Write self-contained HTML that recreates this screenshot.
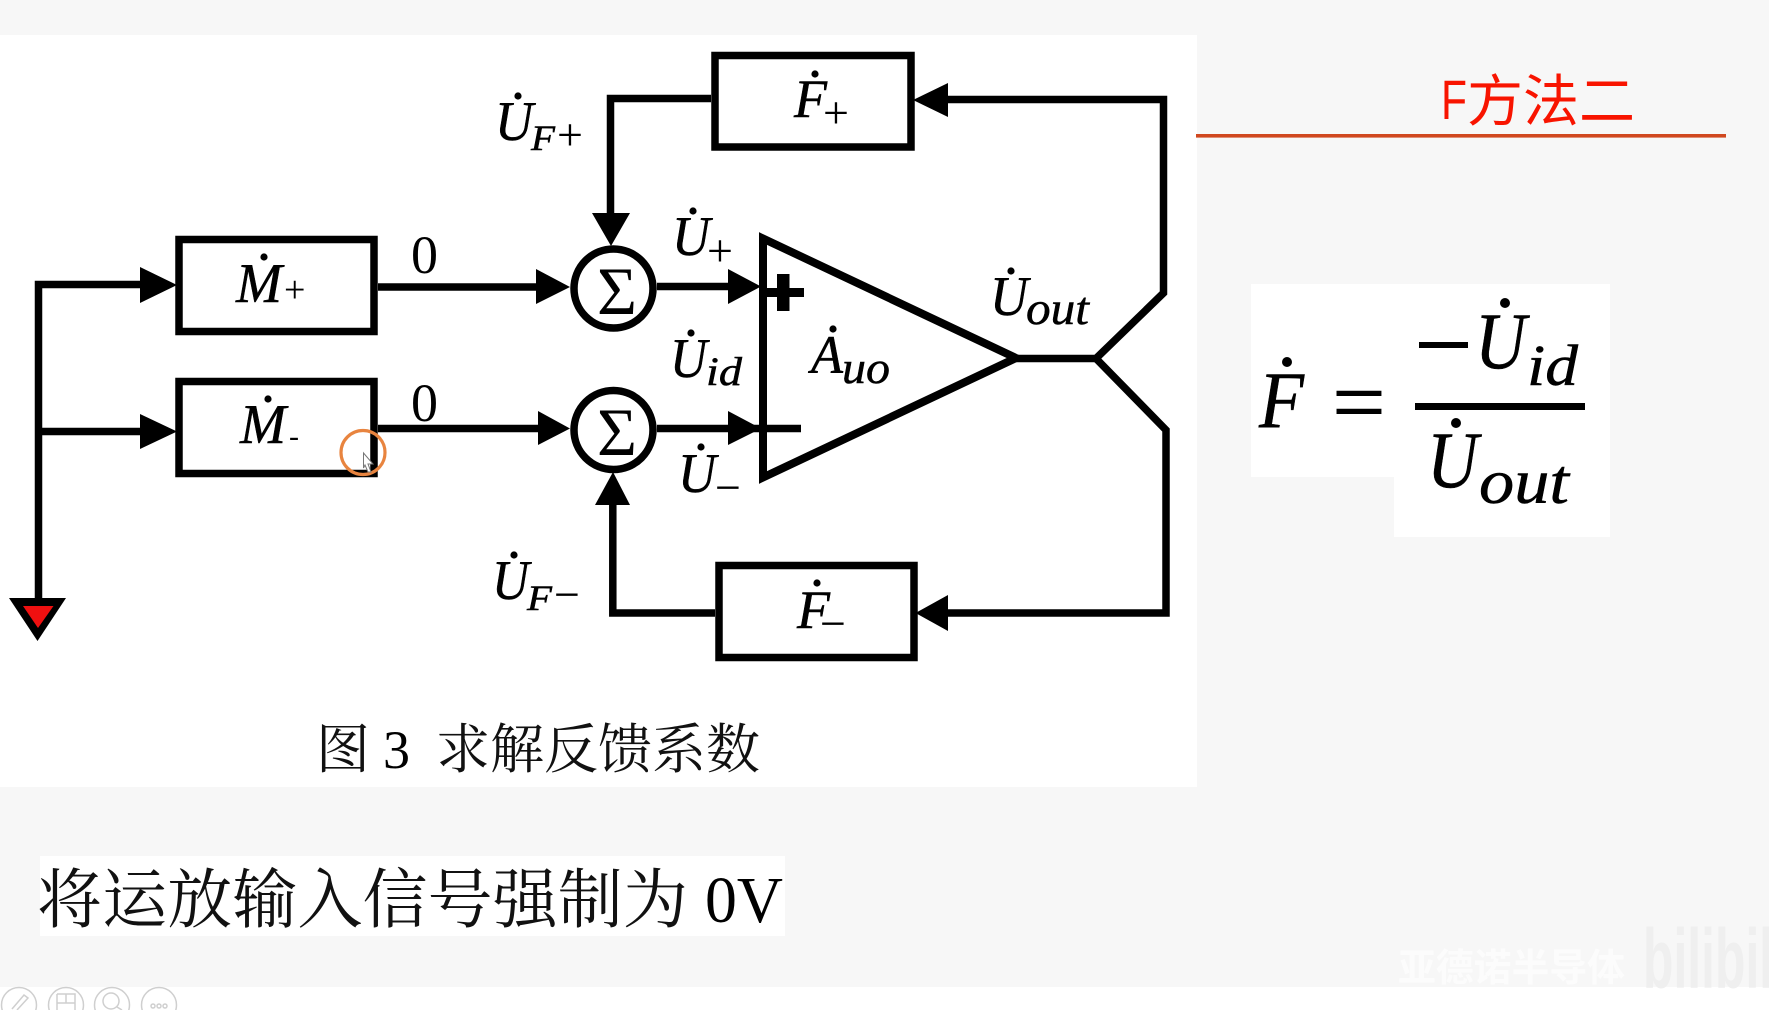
<!DOCTYPE html>
<html><head><meta charset="utf-8">
<style>
html,body{margin:0;padding:0;background:#f7f7f7;width:1769px;height:1010px;overflow:hidden}
svg{display:block}
.s{font-family:"Liberation Serif",serif}
.i{font-family:"Liberation Serif",serif;font-style:italic;fill:#000;stroke:#000;stroke-width:.5}
.c{font-family:"Liberation Serif","Noto Serif CJK SC",serif;fill:#111}
</style></head><body>
<svg width="1769" height="1010" viewBox="0 0 1769 1010" xmlns="http://www.w3.org/2000/svg">
<rect width="1769" height="1010" fill="#f7f7f7"/>
<rect x="0" y="35" width="1197" height="752" fill="#fff"/>
<rect x="0" y="987" width="1769" height="23" fill="#fff"/>
<rect x="40" y="856" width="745" height="80" fill="#fff"/>
<polygon points="1251,284 1610,284 1610,537 1394,537 1394,477 1251,477" fill="#fff"/>

<!-- watermark -->
<text x="1398" y="981" font-family="'Liberation Sans','Noto Sans CJK SC',sans-serif" font-weight="700" font-size="38" fill="#fcfcfc" textLength="227" lengthAdjust="spacingAndGlyphs">亚德诺半导体</text>
<g font-family="'Liberation Sans',sans-serif" font-weight="700" font-size="84" fill="#efefef">
<text x="1643" y="988" textLength="72" lengthAdjust="spacingAndGlyphs">bili</text>
<text x="1715" y="988" textLength="72" lengthAdjust="spacingAndGlyphs">bili</text>
</g>

<!-- blocks -->
<g fill="none" stroke="#000" stroke-width="7.5" stroke-miterlimit="10">
<rect x="179" y="239.5" width="195" height="92"/>
<rect x="179" y="381.5" width="195" height="92"/>
<rect x="715" y="55.5" width="196" height="91.5"/>
<rect x="719" y="565.5" width="195" height="92"/>
<circle cx="613.5" cy="288.5" r="39.5"/>
<circle cx="613.5" cy="430" r="39.5"/>
<polygon points="763,238.5 1016,358 763,477.5" stroke-width="8"/>
<!-- wires -->
<path d="M38.5,598V284.5H145"/>
<path d="M38.5,431.5H145"/>
<path d="M378,287H540"/>
<path d="M378,428.5H542"/>
<path d="M657,286.5H732"/>
<path d="M657,428.5H801"/>
<path d="M711,98.5H610.5V218"/>
<path d="M940,99.5H1163.5V293L1096,358.5H1010"/>
<path d="M1096,358.5L1166,430V613H940"/>
<path d="M715,613H612.8V500"/>
</g>
<!-- arrowheads -->
<g fill="#000">
<polygon points="140,267 177,285 140,303"/>
<polygon points="140,414 177,431.5 140,449"/>
<polygon points="536,269 570,287 536,304"/>
<polygon points="538,411 570,428.5 538,445"/>
<polygon points="728,269 761,286.5 728,304"/>
<polygon points="728,411 761,428.5 728,445"/>
<polygon points="592,213 630,213 611,246"/>
<polygon points="595,505 630,505 613,472"/>
<polygon points="913,100 948,83 948,117"/>
<polygon points="915.5,613 948,595 948,631"/>
<rect x="765" y="288" width="39" height="9"/>
<rect x="777" y="274" width="12.5" height="37"/>
</g>

<!-- ground -->
<polygon points="9,598 66,598 37.5,641" fill="#000"/>
<polygon points="23,606 53.5,606 38,628" fill="#f01010"/>

<!-- sigma and zeros -->
<text class="s" x="597" y="314" font-size="68" textLength="40" lengthAdjust="spacingAndGlyphs">Σ</text>
<text class="s" x="597" y="455" font-size="68" textLength="40" lengthAdjust="spacingAndGlyphs">Σ</text>
<text class="s" x="411" y="273" font-size="54">0</text>
<text class="s" x="411" y="421" font-size="54">0</text>

<!-- labels -->
<g fill="#000">
<circle cx="518" cy="96" r="3.6"/><circle cx="264" cy="257" r="3.6"/><circle cx="268" cy="399" r="3.6"/>
<circle cx="815" cy="74" r="3.6"/><circle cx="693" cy="211" r="3.6"/><circle cx="691" cy="333" r="3.6"/>
<circle cx="701" cy="447" r="3.6"/><circle cx="833" cy="329" r="3.6"/><circle cx="1011" cy="271" r="3.6"/>
<circle cx="514" cy="555" r="3.6"/><circle cx="817" cy="583" r="3.6"/>
<circle cx="1287" cy="362" r="5"/><circle cx="1505" cy="303" r="5"/><circle cx="1456" cy="423" r="5"/>
</g>
<text class="i" x="495" y="140" font-size="56" textLength="38" lengthAdjust="spacingAndGlyphs">U</text>
<text class="i" x="531" y="150" font-size="36" textLength="24" lengthAdjust="spacingAndGlyphs">F</text>
<text class="s" x="557" y="150" font-size="46">+</text>

<text class="i" x="236" y="302" font-size="56" textLength="46" lengthAdjust="spacingAndGlyphs">M</text>
<text class="s" x="284" y="302" font-size="38">+</text>
<text class="i" x="240" y="443" font-size="56" textLength="46" lengthAdjust="spacingAndGlyphs">M</text>
<text class="s" x="289" y="446" font-size="30">-</text>

<text class="i" x="794" y="117" font-size="54" textLength="33" lengthAdjust="spacingAndGlyphs">F</text>
<text class="s" x="823" y="128" font-size="46">+</text>

<text class="i" x="672" y="255" font-size="56" textLength="38" lengthAdjust="spacingAndGlyphs">U</text>
<text class="s" x="707" y="266" font-size="46">+</text>

<text class="i" x="670" y="377" font-size="56" textLength="37" lengthAdjust="spacingAndGlyphs">U</text>
<text class="i" x="706" y="385" font-size="40" textLength="36" lengthAdjust="spacingAndGlyphs">id</text>

<text class="i" x="678" y="492" font-size="56" textLength="38" lengthAdjust="spacingAndGlyphs">U</text>
<text class="s" x="715" y="503" font-size="46">−</text>

<text class="i" x="811" y="373" font-size="54" textLength="32" lengthAdjust="spacingAndGlyphs">A</text>
<text class="i" x="842" y="383" font-size="45" textLength="48" lengthAdjust="spacingAndGlyphs">uo</text>

<text class="i" x="990" y="315" font-size="56" textLength="38" lengthAdjust="spacingAndGlyphs">U</text>
<text class="i" x="1026" y="324" font-size="47" textLength="63" lengthAdjust="spacingAndGlyphs">out</text>

<text class="i" x="492" y="599" font-size="56" textLength="37" lengthAdjust="spacingAndGlyphs">U</text>
<text class="i" x="527" y="610" font-size="36" textLength="25" lengthAdjust="spacingAndGlyphs">F</text>
<text class="s" x="554" y="610" font-size="46">−</text>

<text class="i" x="797" y="628" font-size="54" textLength="33" lengthAdjust="spacingAndGlyphs">F</text>
<text class="s" x="820" y="639" font-size="46">−</text>

<!-- captions -->
<text class="c" x="316" y="768" font-size="54">图</text>
<text class="s" x="383" y="768" font-size="54">3</text>
<text class="c" x="436" y="768" font-size="54" textLength="324" lengthAdjust="spacing">求解反馈系数</text>
<text class="c" x="37" y="922" font-size="65" textLength="651" lengthAdjust="spacing">将运放输入信号强制为</text>
<text class="s" x="705" y="922" font-size="66" textLength="78" lengthAdjust="spacingAndGlyphs">0V</text>

<!-- title -->
<text x="1441" y="119" font-family="'Liberation Sans',sans-serif" font-size="56" fill="#f81400" textLength="26" lengthAdjust="spacingAndGlyphs">F</text>
<text x="1467" y="121" font-family="'Liberation Sans','Noto Sans CJK SC',sans-serif" font-size="56" fill="#f81400" textLength="168" lengthAdjust="spacing">方法二</text>
<rect x="1196" y="134" width="530" height="3.6" fill="#d0481f"/>

<!-- formula -->
<text class="i" x="1259" y="427" font-size="80" textLength="45" lengthAdjust="spacingAndGlyphs">F</text>
<text x="1332" y="426" font-family="'Liberation Sans',sans-serif" font-size="72" fill="#000" textLength="54" lengthAdjust="spacingAndGlyphs">=</text>
<rect x="1419" y="342" width="49" height="6" fill="#000"/>
<text class="i" x="1475" y="368" font-size="80" textLength="51" lengthAdjust="spacingAndGlyphs">U</text>
<text class="i" x="1527" y="385" font-size="58" textLength="51" lengthAdjust="spacingAndGlyphs">id</text>
<rect x="1415" y="403" width="170" height="7" fill="#000"/>
<text class="i" x="1427" y="487" font-size="80" textLength="51" lengthAdjust="spacingAndGlyphs">U</text>
<text class="i" x="1479" y="503" font-size="64" textLength="90" lengthAdjust="spacingAndGlyphs">out</text>

<!-- cursor highlight -->
<circle cx="363" cy="452.5" r="22" fill="none" stroke="#e8843f" stroke-width="3.2"/>
<polygon points="363.5,453 373,464 368,464 371,472 368,472 365,465 363.5,468" fill="#fff" stroke="#777" stroke-width="1"/>

<!-- toolbar icons -->
<g fill="none" stroke="#cfcfcf" stroke-width="1.5">
<circle cx="19" cy="1005" r="17.5"/>
<circle cx="66" cy="1005" r="17.5"/>
<circle cx="112" cy="1005" r="17.5"/>
<circle cx="159" cy="1005" r="17.5"/>
<path d="M12,1009L24,995L28,998L17,1010"/>
<path d="M57,994H75V1010M57,994V1010M66,994V1003M57,1003H75"/>
<circle cx="111" cy="1001" r="8"/><path d="M117,1007L122,1010"/>
<circle cx="153" cy="1006" r="2"/><circle cx="159" cy="1006" r="2"/><circle cx="165" cy="1006" r="2"/>
</g>
</svg>
</body></html>
